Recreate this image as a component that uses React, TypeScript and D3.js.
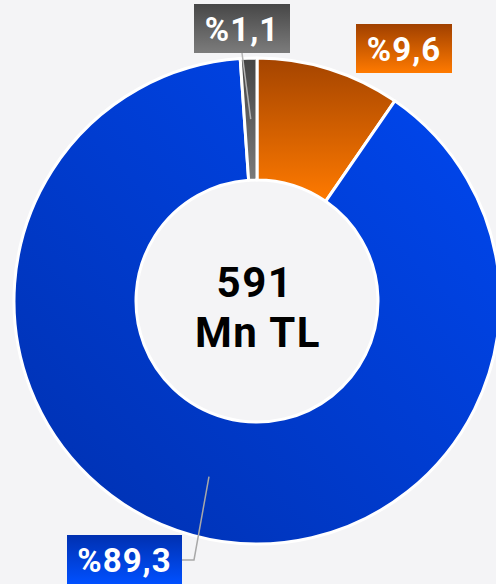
import React from "react";
import * as d3 from "d3";

const categories = ["orange", "blue", "gray"];
const values = [9.6, 89.3, 1.1];
const labels = ["%9,6", "%89,3", "%1,1"];
const centerLines = ["591", "Mn TL"];

const W = 496, H = 584;
const cx = 257, cy = 301, R = 243, r = 121;

const grads: Record<string, { id: string; x1: string; y1: string; x2: string; y2: string; stops: [string, string] }> = {
  orange: { id: "gOrange", x1: "0", y1: "0", x2: "0", y2: "1", stops: ["#a44400", "#ff7a00"] },
  blue: { id: "gBlue", x1: "1", y1: "0", x2: "0", y2: "1", stops: ["#0048f2", "#0030ae"] },
  gray: { id: "gGray", x1: "0", y1: "0", x2: "0", y2: "1", stops: ["#444444", "#7a7a7a"] },
};
const boxGrads: Record<string, [string, string]> = {
  orange: ["#a04000", "#ff7a00"],
  blue: ["#0030b0", "#0050ff"],
  gray: ["#474747", "#7c7c7c"],
};

export default function App() {
  const pie = d3.pie<number>().sort(null).value((d) => d);
  const arcs = pie(values);
  const arc = d3.arc<d3.PieArcDatum<number>>().innerRadius(r).outerRadius(R);
  const font = "Roboto, 'Open Sans', sans-serif";

  // label boxes: [x, y, w, h]
  const boxes: Record<string, [number, number, number, number]> = {
    orange: [356, 24, 96, 49],
    blue: [67, 535, 115, 49],
    gray: [194, 4, 96, 49],
  };

  const cBlue = arc.centroid(arcs[1]);
  const cGray = arc.centroid(arcs[2]);

  return (
    <svg width={W} height={H} style={{ position: "absolute", left: 0, top: 0, background: "#f4f4f6" }}>
      <defs>
        {categories.map((c) => {
          const g = grads[c];
          return (
            <linearGradient key={g.id} id={g.id} x1={g.x1} y1={g.y1} x2={g.x2} y2={g.y2}>
              <stop offset="0%" stopColor={g.stops[0]} />
              <stop offset="100%" stopColor={g.stops[1]} />
            </linearGradient>
          );
        })}
        {categories.map((c) => (
          <linearGradient key={"b" + c} id={"box" + c} x1="0" y1="0" x2="0" y2="1">
            <stop offset="0%" stopColor={boxGrads[c][0]} />
            <stop offset="100%" stopColor={boxGrads[c][1]} />
          </linearGradient>
        ))}
      </defs>
      <rect width={W} height={H} fill="#f4f4f6" />
      <g transform={`translate(${cx},${cy})`}>
        {arcs.map((a, i) => (
          <path key={i} d={arc(a) || ""} fill={`url(#${grads[categories[i]].id})`} stroke="#ffffff" strokeWidth={3} strokeLinejoin="round" />
        ))}
      </g>
      {/* leader lines */}
      <polyline
        points={`${boxes.gray[0] + 48},${boxes.gray[1] + boxes.gray[3]} ${cx + cGray[0]},${cy + cGray[1]}`}
        fill="none" stroke="#b4b4b4" strokeWidth={1.5}
      />
      <polyline
        points={`${boxes.blue[0] + boxes.blue[2]},${560} ${194},${560} ${cx + cBlue[0]},${cy + cBlue[1]}`}
        fill="none" stroke="#a8a8a8" strokeWidth={1.5}
      />
      {categories.map((c, i) => {
        const [x, y, w, h] = boxes[c];
        return (
          <g key={"l" + c}>
            <rect x={x} y={y} width={w} height={h} fill={`url(#box${c})`} />
            <text x={x + w / 2} y={y + 37} textAnchor="middle" fill="#ffffff" fontFamily={font} fontWeight={700} fontSize={33} letterSpacing={1}>
              {labels[i]}
            </text>
          </g>
        );
      })}
      <text x={cx - 2} y={297} textAnchor="middle" fill="#000" fontFamily={font} fontWeight={700} fontSize={42} letterSpacing={1.5}>
        {centerLines[0]}
      </text>
      <text x={cx + 1} y={347} textAnchor="middle" fill="#000" fontFamily={font} fontWeight={700} fontSize={42} letterSpacing={1.5}>
        {centerLines[1]}
      </text>
    </svg>
  );
}
